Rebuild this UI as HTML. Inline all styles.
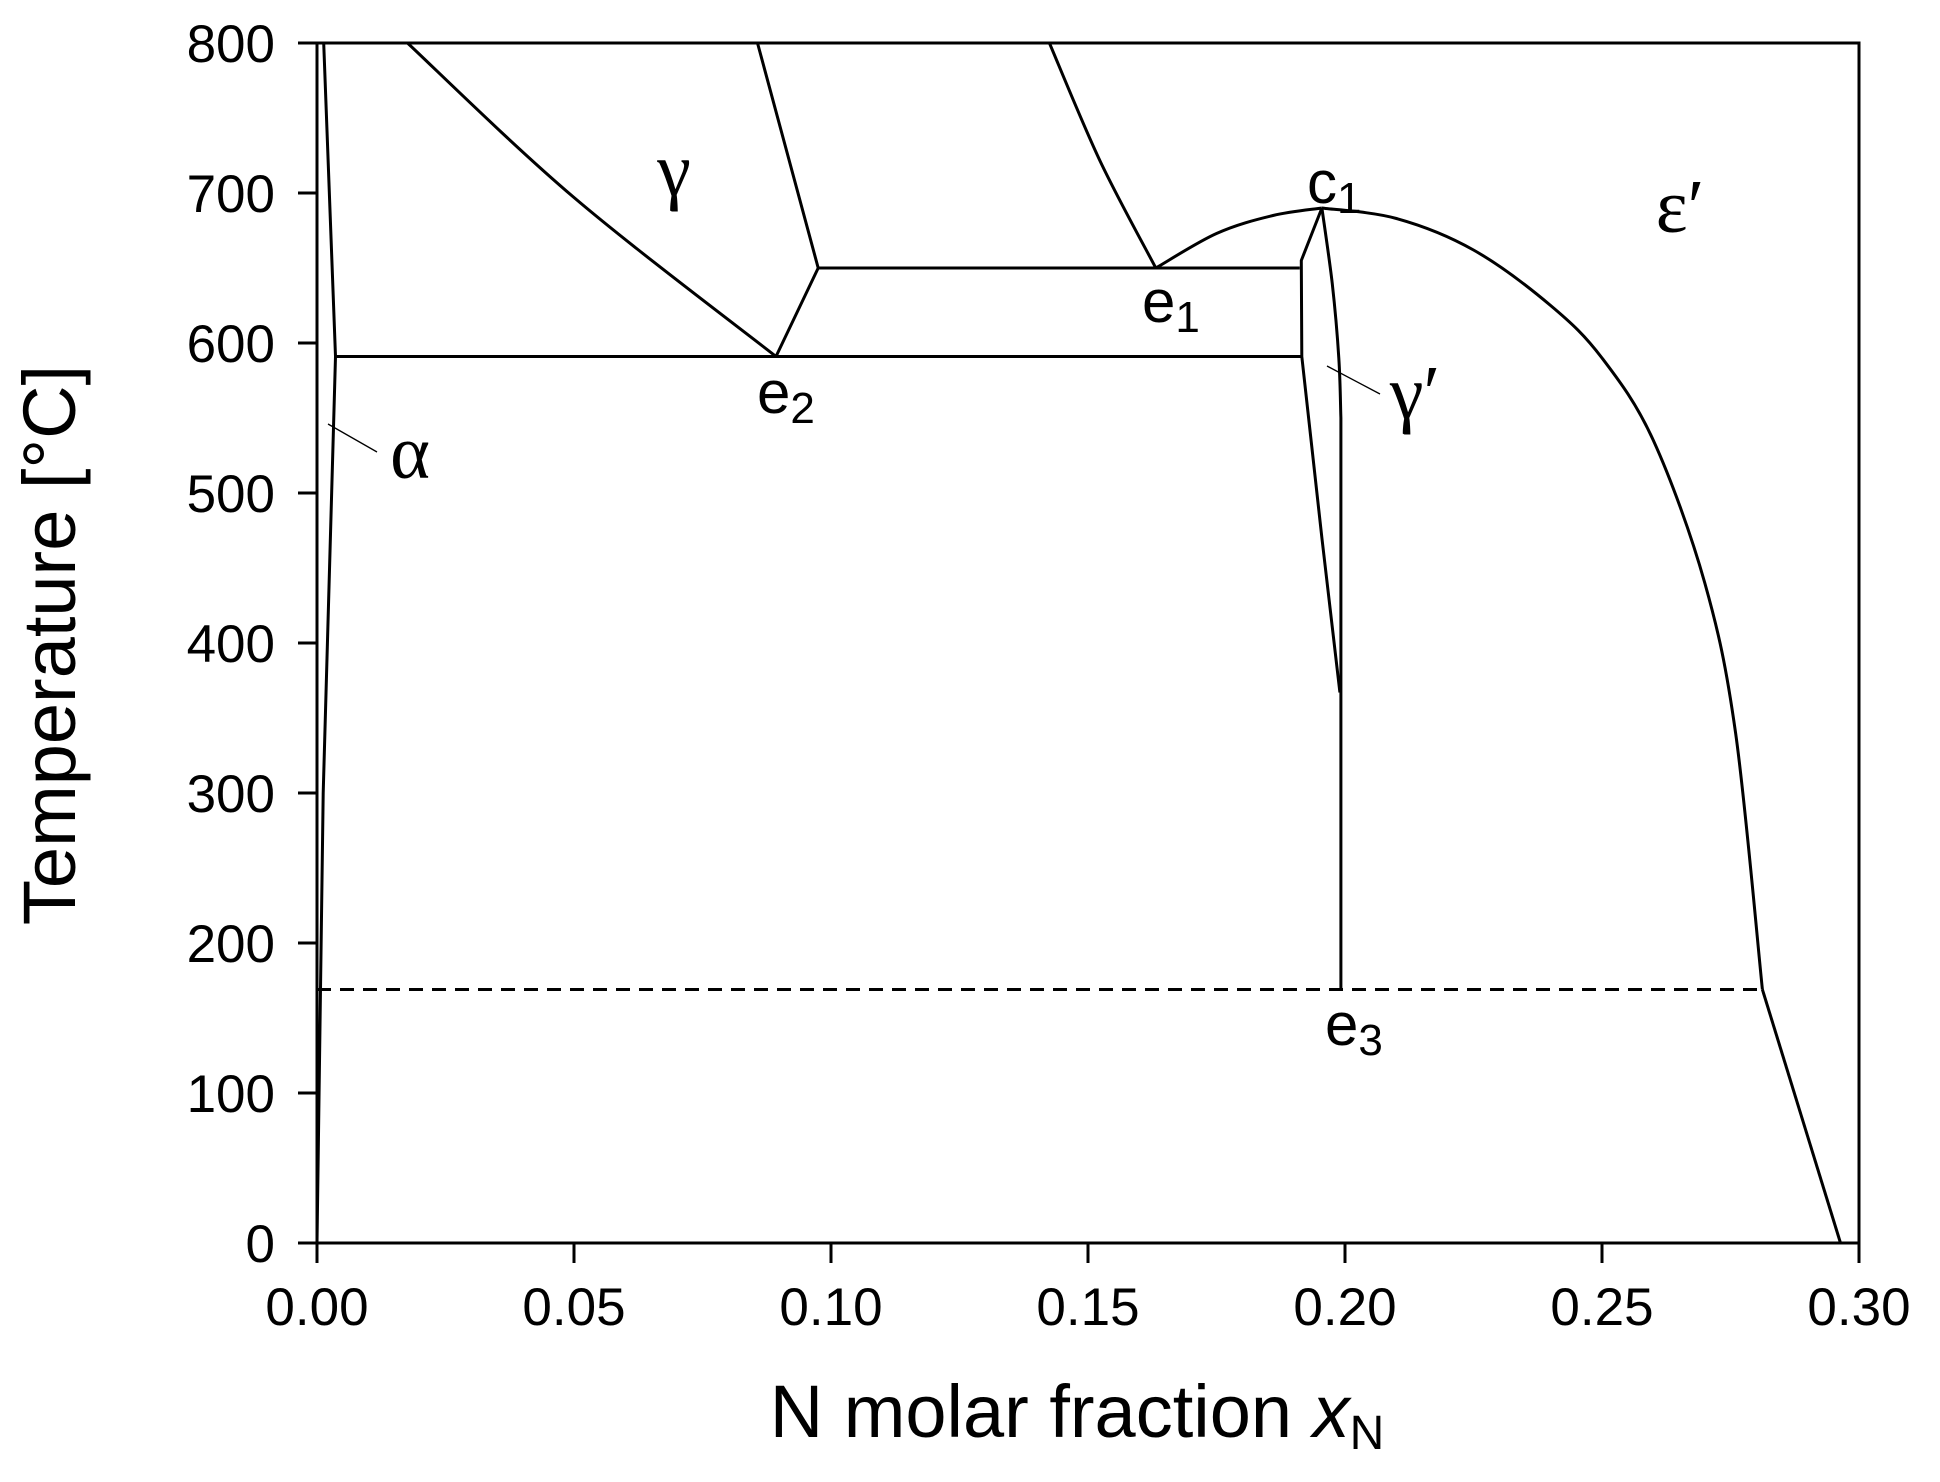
<!DOCTYPE html>
<html><head><meta charset="utf-8"><style>
html,body{margin:0;padding:0;background:#fff}
svg{display:block}
text{font-family:"Liberation Sans","DejaVu Sans",sans-serif;fill:#000}
.g{font-family:"Liberation Serif","DejaVu Serif",serif}
</style></head><body>
<svg id="chart" width="1940" height="1482" viewBox="0 0 1940 1482" xmlns="http://www.w3.org/2000/svg"></svg>
<script>
const xTicks=[0,0.05,0.10,0.15,0.20,0.25,0.30];
const xTickLabels=["0.00","0.05","0.10","0.15","0.20","0.25","0.30"];
const yTicks=[0,100,200,300,400,500,600,700,800];
const alphaX=[0,0.0012,0.0036,0.0013];
const alphaT=[0,300,591,800];
const eut591X=[0.0036,0.1916];
const eut591T=[591,591];
const eut650X=[0.0975,0.1912];
const eut650T=[650,650];
const gammaX=[0.0176,0.05,0.0893];
const gammaT=[800,697,591];
const e2upX=[0.0893,0.0975,0.0857];
const e2upT=[591,650,800];
const e1leftX=[0.1425,0.1524,0.1632];
const e1leftT=[800,721,650];
const domeLX=[0.1632,0.175,0.186,0.1955];
const domeLT=[650,673,685,690];
const domeRX=[0.1955,0.21,0.225,0.24,0.25,0.26,0.27,0.276,0.2812];
const domeRT=[690,683,662,625,590,535,440,340,169];
const domeLowX=[0.2812,0.2964];
const domeLowT=[169,0];
const gpLX=[0.1955,0.1915,0.1916,0.1955,0.199];
const gpLT=[690,655,591,470,367];
const gpRX=[0.1955,0.1975,0.1988,0.1992];
const gpRT=[690,640,590,550];
const e3X=[0.1992,0.1992];
const e3T=[550,169];
const dashX=[0,0.2812];
const dashT=[169,169];

const X0=317,X1=1859,Y0=1243,Y1=43;
const sx=v=>X0+v/0.3*(X1-X0);
const sy=t=>Y0-t/800*(Y0-Y1);
const svg=document.getElementById('chart');
const NS='http://www.w3.org/2000/svg';
function mk(tag,attrs,parent){const e=document.createElementNS(NS,tag);for(const k in attrs)e.setAttribute(k,attrs[k]);(parent||svg).appendChild(e);return e;}
function line(xs,ts,name,dash,smooth){
  const P=xs.map((x,i)=>[sx(x),sy(ts[i])]);
  let d='M'+P[0][0].toFixed(1)+' '+P[0][1].toFixed(1);
  for(let i=1;i<P.length;i++){
    if(smooth){
      const p0=P[Math.max(0,i-2)],p1=P[i-1],p2=P[i],p3=P[Math.min(P.length-1,i+1)];
      const c1=[p1[0]+(p2[0]-p0[0])/6,p1[1]+(p2[1]-p0[1])/6];
      const c2=[p2[0]-(p3[0]-p1[0])/6,p2[1]-(p3[1]-p1[1])/6];
      d+=' C'+c1.map(v=>v.toFixed(1)).join(' ')+' '+c2.map(v=>v.toFixed(1)).join(' ')+' '+p2[0].toFixed(1)+' '+p2[1].toFixed(1);
    } else d+=' L'+P[i][0].toFixed(1)+' '+P[i][1].toFixed(1);
  }
  const p=mk('path',{d:d,fill:'none',stroke:'#000','stroke-width':3,'stroke-linejoin':'round'});
  if(dash)p.setAttribute('stroke-dasharray','14 9');
  
  
}
const fr=mk('rect',{x:X0,y:Y1,width:X1-X0,height:Y0-Y1,fill:'none',stroke:'#000','stroke-width':3});


yTicks.forEach(t=>{
  const l=mk('line',{x1:X0-19,x2:X0,y1:sy(t),y2:sy(t),stroke:'#000','stroke-width':3});
  
  
  const tx=mk('text',{x:X0-42,y:sy(t)+19,'text-anchor':'end','font-size':53});
  tx.textContent=t;
  
  
});
xTicks.forEach((v,i)=>{
  const l=mk('line',{x1:sx(v),x2:sx(v),y1:Y0,y2:Y0+20,stroke:'#000','stroke-width':3});
  
  
  const tx=mk('text',{x:sx(v),y:1325,'text-anchor':'middle','font-size':53});
  tx.textContent=xTickLabels[i];
  
  
});
line(alphaX,alphaT,'alpha-solvus');
line(eut591X,eut591T,'eutectoid-591');
line(eut650X,eut650T,'eutectoid-650');
line(gammaX,gammaT,'gamma-boundary',false,true);
line(e2upX,e2upT,'gamma-right-boundary');
line(e1leftX,e1leftT,'epsilon-left-boundary',false,true);
line(domeLX,domeLT,'dome-left',false,true);
line(domeRX,domeRT,'dome-right',false,true);
line(domeLowX,domeLowT,'epsilon-low-boundary');
line(gpLX,gpLT,'gamma-prime-left');
line(gpRX,gpRT,'gamma-prime-right',false,true);
line(e3X,e3T,'gamma-prime-vertical');
line(dashX,dashT,'dashed-170',true);
[[328,424,377,452,'alpha-leader'],[1327,366,1380,394,'gamma-prime-leader']].forEach(a=>{
  const l=mk('line',{x1:a[0],y1:a[1],x2:a[2],y2:a[3],stroke:'#000','stroke-width':1.3});
  
  
});
</script>
<svg style="position:absolute;left:0;top:0" width="1940" height="1482">
<text transform="translate(75,645) rotate(-90)" text-anchor="middle" font-size="74">Temperature [°C]</text>
<text x="1077" y="1437" text-anchor="middle" font-size="74">N molar fraction <tspan font-style="italic">x</tspan><tspan font-size="48" dy="12">N</tspan></text>
<text class="g" x="674" y="195" text-anchor="middle" font-size="76">γ</text>
<text class="g" x="1680" y="232" text-anchor="middle" font-size="76">ε′</text>
<text class="g" x="410" y="478" text-anchor="middle" font-size="76">α</text>
<text class="g" x="1415" y="418" text-anchor="middle" font-size="76">γ′</text>
<text x="1307" y="203" font-size="60">c<tspan font-size="44" dy="10">1</tspan></text>
<text x="1142" y="322" font-size="60">e<tspan font-size="44" dy="10">1</tspan></text>
<text x="757" y="413" font-size="60">e<tspan font-size="44" dy="10">2</tspan></text>
<text x="1325" y="1045" font-size="60">e<tspan font-size="44" dy="10">3</tspan></text>
</svg>
</body></html>
